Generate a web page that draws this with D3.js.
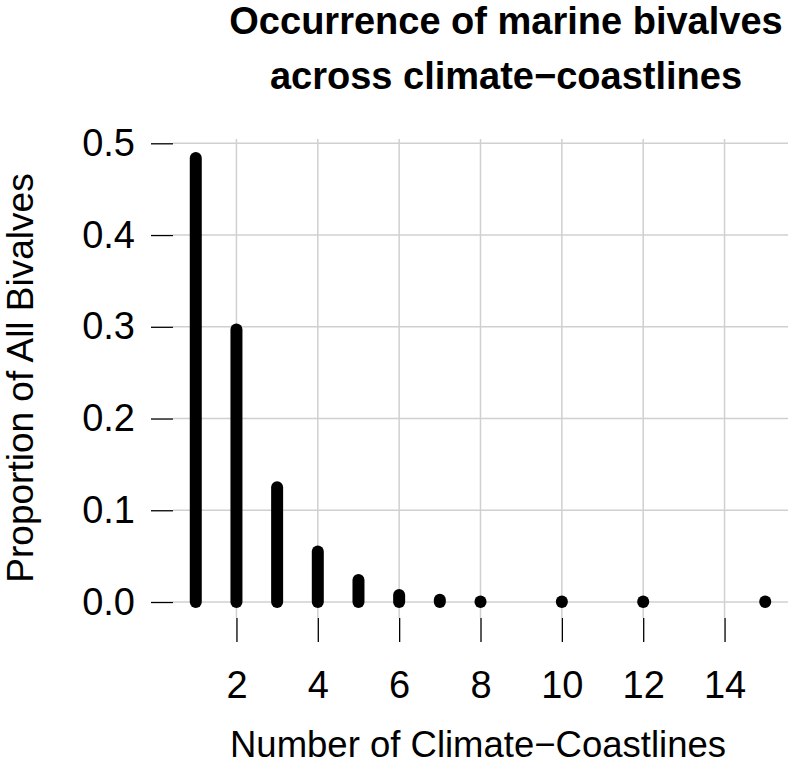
<!DOCTYPE html>
<html>
<head>
<meta charset="utf-8">
<script src="https://cdn.jsdelivr.net/npm/d3@7/dist/d3.min.js"></script>
<style>
  body { margin: 0; background: #fff; }
  text { font-family: "Liberation Sans", Arial, sans-serif; fill: #000; }
</style>
</head>
<body>
<script>
// number of climate-coastlines a species occurs in
var coastlines = [1, 2, 3, 4, 5, 6, 7, 8, 10, 12, 15];
// proportion of all bivalves for each count
var proportion = [0.484, 0.297, 0.125, 0.055, 0.024, 0.0076, 0.0025, 0.0005, 0.0005, 0.0005, 0.0005];

var xTicks = [2, 4, 6, 8, 10, 12, 14];
var yTicks = [0, 0.1, 0.2, 0.3, 0.4, 0.5];
var titleLines = ["Occurrence of marine bivalves", "across climate\u2212coastlines"];
var xTitle = "Number of Climate\u2212Coastlines";
var yTitle = "Proportion of All Bivalves";

var w = 796, h = 770;
// plot box (window.top is taken, so plotTop etc.)
var plotLeft = 173, plotRight = 788, plotTop = 139, plotBottom = 618;

var svg = d3.select("body").append("svg")
    .attr("width", w)
    .attr("height", h);

// R style 4% padding around 1..15
var x = d3.scaleLinear().domain([0.44, 15.56]).range([plotLeft, plotRight]);
var y = d3.scaleLinear().domain([0, 0.5]).range([602, 143.3]);

// grid
svg.append("g").selectAll("line")
    .data(yTicks).enter().append("line")
    .attr("x1", plotLeft).attr("x2", plotRight)
    .attr("y1", function(d) { return y(d); })
    .attr("y2", function(d) { return y(d); })
    .attr("stroke", "#d0d0d0").attr("stroke-width", 1.5);

svg.append("g").selectAll("line")
    .data(xTicks).enter().append("line")
    .attr("x1", function(d) { return x(d); })
    .attr("x2", function(d) { return x(d); })
    .attr("y1", plotTop).attr("y2", plotBottom)
    .attr("stroke", "#d0d0d0").attr("stroke-width", 1.5);

// axes (no domain line, long ticks)
var xAxis = d3.axisBottom(x).tickValues(xTicks).tickSize(24).tickPadding(29);
var gx = svg.append("g")
    .attr("transform", "translate(0," + plotBottom + ")")
    .call(xAxis);

var yAxis = d3.axisLeft(y).tickValues(yTicks).tickSize(22).tickPadding(16)
    .tickFormat(d3.format(".1f"));
var gy = svg.append("g")
    .attr("transform", "translate(" + plotLeft + ",0)")
    .call(yAxis);

[gx, gy].forEach(function(g) {
  g.select(".domain").remove();
  g.selectAll(".tick line").attr("stroke", "#000").attr("stroke-width", 1.3);
  g.selectAll(".tick text")
    .style("font-family", "'Liberation Sans', Arial, sans-serif")
    .style("font-size", "38px")
    .attr("fill", "#000");
});

// type="h" spikes with round ends
svg.append("g").selectAll("line")
    .data(proportion).enter().append("line")
    .attr("x1", function(d, i) { return x(coastlines[i]); })
    .attr("x2", function(d, i) { return x(coastlines[i]); })
    .attr("y1", y(0))
    .attr("y2", function(d) { return y(d); })
    .attr("stroke", "#000")
    .attr("stroke-width", 12)
    .attr("stroke-linecap", "round");

// title
svg.append("g").selectAll("text")
    .data(titleLines).enter().append("text")
    .attr("x", 506)
    .attr("y", function(d, i) { return 34 + i * 55; })
    .attr("text-anchor", "middle")
    .style("font-size", "38px")
    .style("font-weight", "bold")
    .text(function(d) { return d; });

// axis titles
svg.append("text")
    .attr("x", 478)
    .attr("y", 757)
    .attr("text-anchor", "middle")
    .style("font-size", "36.5px")
    .text(xTitle);

svg.append("text")
    .attr("transform", "translate(33,378) rotate(-90)")
    .attr("text-anchor", "middle")
    .style("font-size", "37px")
    .text(yTitle);
</script>
</body>
</html>
